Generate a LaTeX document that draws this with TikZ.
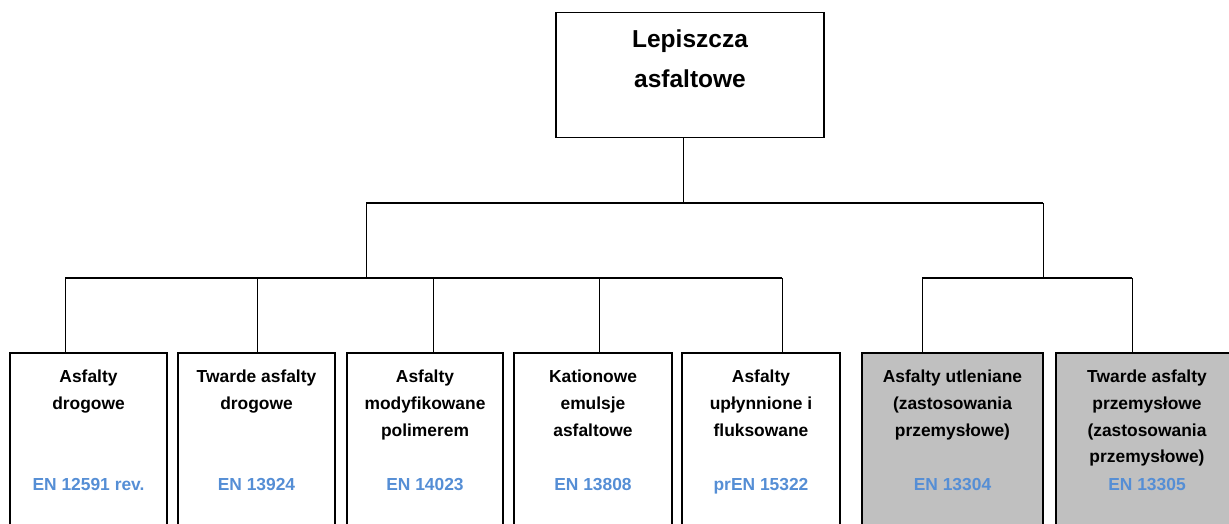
\documentclass[tikz,border=0pt]{standalone}
\usepackage{fontspec}
\setmainfont{Liberation Sans}
\definecolor{normblue}{RGB}{85,142,213}
\definecolor{boxgray}{RGB}{192,192,192}

\begin{document}
\begin{tikzpicture}[x=1pt,y=-1pt,
  leaf/.style={draw, line width=1.5pt, anchor=north, minimum height=200pt, inner sep=0pt},
  title/.style={anchor=base, align=center, inner sep=0pt, font=\bfseries\fontsize{17.4}{26.8}\selectfont},
  norm/.style={anchor=base, inner sep=0pt, text=normblue, font=\bfseries\fontsize{17.4}{20}\selectfont},
  bar/.style={line width=1.6pt},
  link/.style={line width=1pt}]
\useasboundingbox (0,0) rectangle (1229,524);

% Top box
\node[draw, line width=1.5pt, minimum width=268pt, minimum height=125pt, anchor=north, inner sep=0pt] (root) at (690,12) {};
% (base of a multi-line node = last line)
\node[anchor=base, align=center, inner sep=0pt, font=\bfseries\fontsize{24.5}{40}\selectfont] (rootlbl) at (690,88) {Lepiszcza\\asfaltowe};

% Bottom boxes
\node[leaf, minimum width=157pt] (b1) at (88.5,352) {};
\node[leaf, minimum width=157pt] (b2) at (256.5,352) {};
\node[leaf, minimum width=156pt] (b3) at (425,352) {};
\node[leaf, minimum width=158pt] (b4) at (593,352) {};
\node[leaf, minimum width=158pt] (b5) at (761,352) {};
\node[leaf, minimum width=181pt, fill=boxgray] (b6) at (952.5,352) {};
\node[leaf, minimum width=182pt, fill=boxgray] (b7) at (1147,352) {};

% Box texts
\node[title] (t1) at (b1.north |- 0,409.3) {Asfalty\\drogowe};
\node[title] (t2) at (b2.north |- 0,409.3) {Twarde asfalty\\drogowe};
\node[title] (t3) at (b3.north |- 0,436.1) {Asfalty\\modyfikowane\\polimerem};
\node[title] (t4) at (b4.north |- 0,436.1) {Kationowe\\emulsje\\asfaltowe};
\node[title] (t5) at (b5.north |- 0,436.1) {Asfalty\\upłynnione i\\fluksowane};
\node[title] (t6) at (b6.north |- 0,436.1) {Asfalty utleniane\\(zastosowania\\przemysłowe)};
\node[title] (t7) at (b7.north |- 0,462.9) {Twarde asfalty\\przemysłowe\\(zastosowania\\przemysłowe)};

% Norms
\node[norm] (n1) at (b1.north |- 0,490) {EN 12591 rev.};
\node[norm] (n2) at (b2.north |- 0,490) {EN 13924};
\node[norm] (n3) at (b3.north |- 0,490) {EN 14023};
\node[norm] (n4) at (b4.north |- 0,490) {EN 13808};
\node[norm] (n5) at (b5.north |- 0,490) {prEN 15322};
\node[norm] (n6) at (b6.north |- 0,490) {EN 13304};
\node[norm] (n7) at (b7.north |- 0,490) {EN 13305};

% Junctions
\coordinate (j0) at (683,203);
\coordinate (jl) at (366,203);
\coordinate (jr) at (1043,203);
\coordinate (r1) at (65,278);
\coordinate (r2) at (257,278);
\coordinate (r3) at (433,278);
\coordinate (r4) at (599,278);
\coordinate (r5) at (782,278);
\coordinate (r6) at (922,278);
\coordinate (r7) at (1132,278);

% Connectors
\draw[link] (root.south -| j0) -- (j0);
\draw[bar] (jl) -- (jr);
\draw[link] (jl) -- (jl |- r1);
\draw[link] (jr) -- (jr |- r6);
\draw[bar] (r1) -- (r5);
\draw[bar] (r6) -- (r7);
\foreach \i in {1,...,5} \draw[link] (r\i) -- (r\i |- b1.north);
\foreach \i in {6,7} \draw[link] (r\i) -- (r\i |- b6.north);

\end{tikzpicture}
\end{document}
